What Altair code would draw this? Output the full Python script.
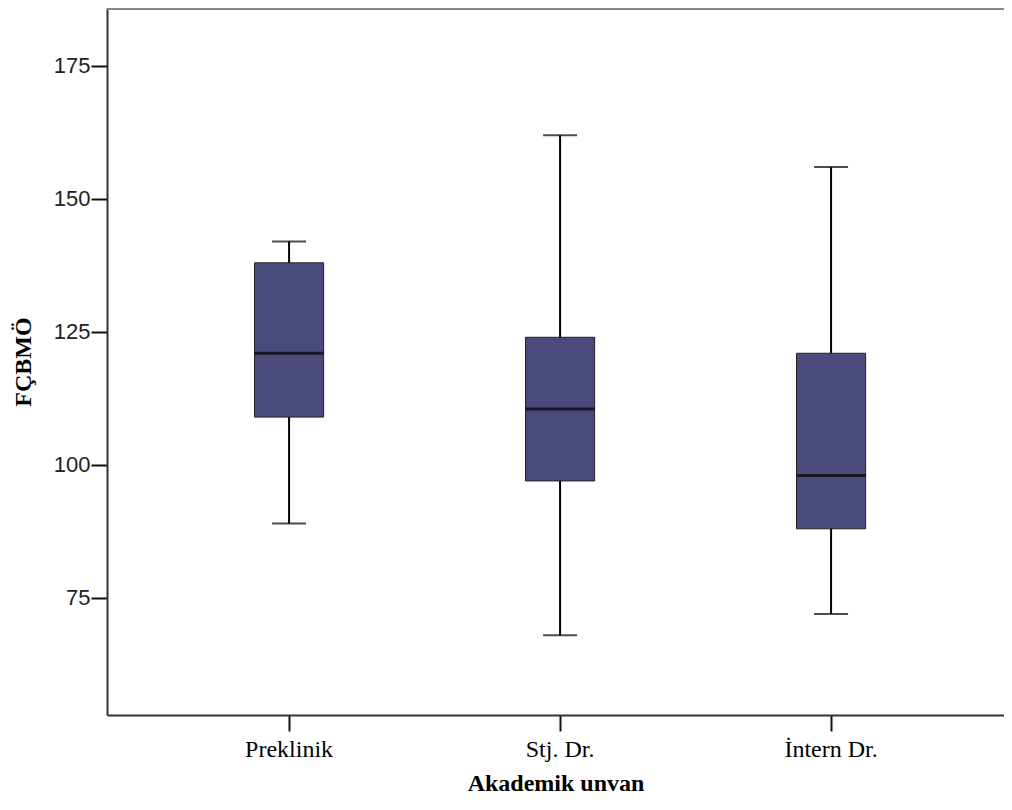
import altair as alt
import pandas as pd

categories = ["Preklinik", "Stj. Dr.", "İntern Dr."]
whisker_low = [89, 68, 72]
q1 = [109, 97, 88]
median = [121, 110.5, 98]
q3 = [138, 124, 121]
whisker_high = [142, 162, 156]
y_ticks = [75, 100, 125, 150, 175]

df = pd.DataFrame({
    "cat": categories,
    "low": whisker_low,
    "q1": q1,
    "med": median,
    "q3": q3,
    "high": whisker_high,
})

W, H = 897, 707

x = alt.X("cat:N", sort=categories,
          scale=alt.Scale(paddingInner=0.745, paddingOuter=0.5275, align=0.516),
          axis=alt.Axis(title="Akademik unvan", labelAngle=0,
                        labelFont="Liberation Serif", labelFontSize=24, labelColor="#000",
                        labelPadding=6, tickSize=16, tickWidth=2, tickColor="#111",
                        domainColor="#333", domainWidth=2,
                        titleFont="Liberation Serif", titleFontSize=24, titleFontWeight="bold",
                        titleColor="#000", titleBaseline="alphabetic", titleY=75))
yscale = alt.Scale(domain=[53.0, 185.9], nice=False, zero=False)
yaxis = alt.Axis(title="FÇBMÖ", values=y_ticks, grid=False,
                 labelFont="Liberation Sans", labelFontSize=22, labelColor="#222",
                 labelPadding=1, tickSize=16, tickWidth=2, tickColor="#111",
                 domainColor="#333", domainWidth=2,
                 titleFont="Liberation Serif", titleFontSize=24, titleFontWeight="bold",
                 titleColor="#000", titleBaseline="middle", titleX=-84, titleY=H / 2)

base = alt.Chart(df)

whisk = base.mark_rule(color="#000", strokeWidth=2).encode(
    x=x, y=alt.Y("low:Q", scale=yscale, axis=yaxis), y2="high:Q")
box = base.mark_bar(fill="#4a4a7c", stroke="#222", strokeWidth=1).encode(
    x=x, y=alt.Y("q1:Q", scale=yscale, axis=yaxis), y2="q3:Q")
med = base.mark_tick(color="#000", size=69, thickness=3).encode(
    x=x, y=alt.Y("med:Q", scale=yscale, axis=yaxis))
cap_lo = base.mark_tick(color="#000", size=34, thickness=2).encode(
    x=x, y=alt.Y("low:Q", scale=yscale, axis=yaxis))
cap_hi = base.mark_tick(color="#000", size=34, thickness=2).encode(
    x=x, y=alt.Y("high:Q", scale=yscale, axis=yaxis))

top = alt.Chart(pd.DataFrame({"k": [0]})).mark_rule(color="#888", strokeWidth=2).encode(
    x=alt.value(0), x2=alt.value(W), y=alt.value(1))

chart = alt.layer(whisk, box, med, cap_lo, cap_hi, top).properties(
    width=W, height=H,
    autosize=alt.AutoSizeParams(type="none"),
    padding={"left": 99, "top": 0, "right": 0, "bottom": 83},
).configure_view(stroke=None).configure(background="white")

chart.save("out.html", embed_options={"renderer": "svg", "actions": False})
